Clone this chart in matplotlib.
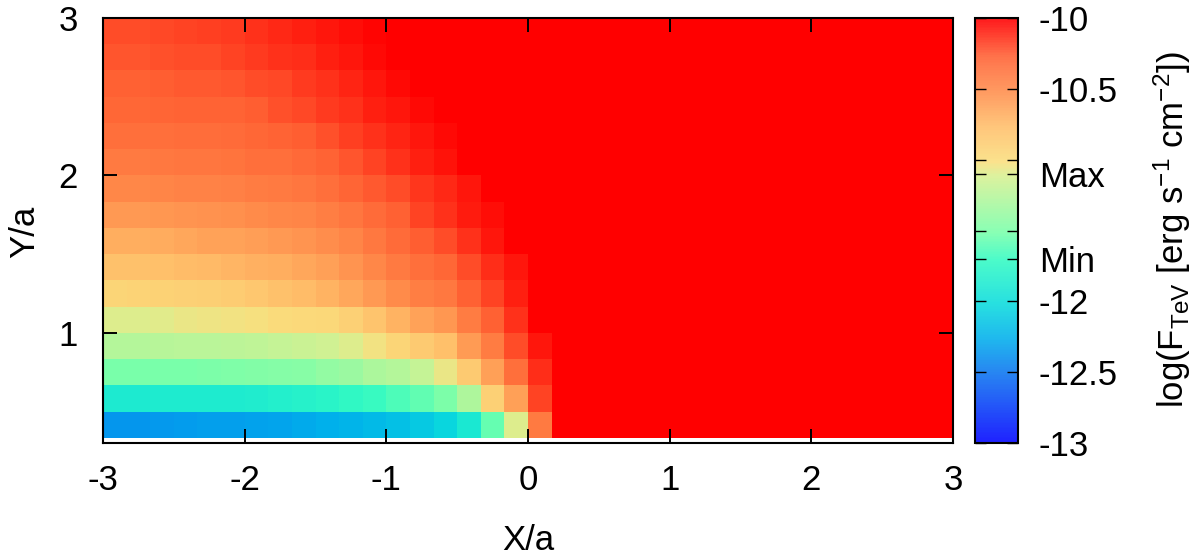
import matplotlib
matplotlib.use("Agg")
import matplotlib.pyplot as plt
import numpy as np
from matplotlib.cm import ScalarMappable
from matplotlib.colors import LinearSegmentedColormap, Normalize

plt.rcParams['font.family'] = ['Liberation Sans', 'DejaVu Sans']
plt.rcParams['mathtext.fontset'] = 'custom'
plt.rcParams['mathtext.rm'] = 'Liberation Sans'
plt.rcParams['mathtext.default'] = 'rm'

x_ticks = [-3, -2, -1, 0, 1, 2, 3]
y_ticks = [1, 2, 3]
cbar_ticks = [-13, -12.5, -12, -11.7, -11.5, -11.1, -11, -10.5, -10]
cbar_labels = ['-13', '-12.5', '-12', 'Min', '', 'Max', '', '-10.5', '-10']

# log flux per cell, bottom row first, columns left to right
row01 = [-12.35, -12.35, -12.34, -12.33, -12.32, -12.31, -12.30, -12.29, -12.27, -12.25, -12.22, -12.18, -12.15, -12.10, -12.03, -11.88, -11.55, -11.08, -10.40, -10, -10, -10, -10, -10, -10, -10, -10, -10, -10, -10, -10, -10, -10, -10, -10, -10]
row02 = [-11.86, -11.86, -11.85, -11.85, -11.84, -11.84, -11.83, -11.81, -11.79, -11.76, -11.72, -11.68, -11.62, -11.56, -11.48, -11.27, -10.90, -10.60, -10.18, -10, -10, -10, -10, -10, -10, -10, -10, -10, -10, -10, -10, -10, -10, -10, -10, -10]
row03 = [-11.50, -11.50, -11.49, -11.49, -11.48, -11.47, -11.46, -11.45, -11.43, -11.39, -11.35, -11.28, -11.25, -11.18, -11.05, -10.85, -10.60, -10.35, -10.12, -10, -10, -10, -10, -10, -10, -10, -10, -10, -10, -10, -10, -10, -10, -10, -10, -10]
row04 = [-11.25, -11.25, -11.24, -11.23, -11.22, -11.21, -11.20, -11.18, -11.15, -11.13, -11.08, -11.03, -10.93, -10.85, -10.77, -10.58, -10.42, -10.20, -10.06, -10, -10, -10, -10, -10, -10, -10, -10, -10, -10, -10, -10, -10, -10, -10, -10, -10]
row05 = [-11.08, -11.08, -11.07, -11.05, -11.04, -11.03, -11.01, -10.98, -10.97, -10.95, -10.90, -10.80, -10.70, -10.62, -10.56, -10.42, -10.26, -10.13, -10, -10, -10, -10, -10, -10, -10, -10, -10, -10, -10, -10, -10, -10, -10, -10, -10, -10]
row06 = [-10.93, -10.92, -10.91, -10.90, -10.88, -10.86, -10.83, -10.78, -10.74, -10.70, -10.64, -10.57, -10.50, -10.43, -10.39, -10.26, -10.18, -10.09, -10, -10, -10, -10, -10, -10, -10, -10, -10, -10, -10, -10, -10, -10, -10, -10, -10, -10]
row07 = [-10.78, -10.78, -10.77, -10.75, -10.73, -10.71, -10.69, -10.67, -10.64, -10.60, -10.54, -10.47, -10.41, -10.35, -10.30, -10.20, -10.12, -10.06, -10, -10, -10, -10, -10, -10, -10, -10, -10, -10, -10, -10, -10, -10, -10, -10, -10, -10]
row08 = [-10.67, -10.67, -10.66, -10.64, -10.62, -10.61, -10.59, -10.57, -10.55, -10.51, -10.46, -10.39, -10.32, -10.25, -10.20, -10.13, -10.07, -10, -10, -10, -10, -10, -10, -10, -10, -10, -10, -10, -10, -10, -10, -10, -10, -10, -10, -10]
row09 = [-10.57, -10.57, -10.56, -10.55, -10.53, -10.52, -10.50, -10.48, -10.46, -10.43, -10.38, -10.32, -10.26, -10.18, -10.13, -10.08, -10.04, -10, -10, -10, -10, -10, -10, -10, -10, -10, -10, -10, -10, -10, -10, -10, -10, -10, -10, -10]
row10 = [-10.47, -10.47, -10.46, -10.45, -10.45, -10.44, -10.42, -10.41, -10.38, -10.34, -10.29, -10.24, -10.20, -10.15, -10.11, -10.07, -10, -10, -10, -10, -10, -10, -10, -10, -10, -10, -10, -10, -10, -10, -10, -10, -10, -10, -10, -10]
row11 = [-10.40, -10.40, -10.39, -10.38, -10.38, -10.37, -10.35, -10.34, -10.31, -10.28, -10.23, -10.18, -10.13, -10.09, -10.05, -10, -10, -10, -10, -10, -10, -10, -10, -10, -10, -10, -10, -10, -10, -10, -10, -10, -10, -10, -10, -10]
row12 = [-10.35, -10.35, -10.34, -10.33, -10.33, -10.32, -10.30, -10.28, -10.25, -10.22, -10.17, -10.13, -10.10, -10.06, -10.03, -10, -10, -10, -10, -10, -10, -10, -10, -10, -10, -10, -10, -10, -10, -10, -10, -10, -10, -10, -10, -10]
row13 = [-10.30, -10.30, -10.29, -10.28, -10.28, -10.27, -10.25, -10.22, -10.19, -10.16, -10.13, -10.09, -10.06, -10.03, -10, -10, -10, -10, -10, -10, -10, -10, -10, -10, -10, -10, -10, -10, -10, -10, -10, -10, -10, -10, -10, -10]
row14 = [-10.26, -10.26, -10.25, -10.24, -10.24, -10.23, -10.21, -10.19, -10.16, -10.13, -10.10, -10.06, -10.03, -10, -10, -10, -10, -10, -10, -10, -10, -10, -10, -10, -10, -10, -10, -10, -10, -10, -10, -10, -10, -10, -10, -10]
row15 = [-10.23, -10.23, -10.22, -10.21, -10.20, -10.18, -10.16, -10.14, -10.12, -10.09, -10.06, -10.03, -10, -10, -10, -10, -10, -10, -10, -10, -10, -10, -10, -10, -10, -10, -10, -10, -10, -10, -10, -10, -10, -10, -10, -10]
row16 = [-10.20, -10.20, -10.19, -10.18, -10.17, -10.16, -10.14, -10.11, -10.09, -10.07, -10.04, -10.02, -10, -10, -10, -10, -10, -10, -10, -10, -10, -10, -10, -10, -10, -10, -10, -10, -10, -10, -10, -10, -10, -10, -10, -10]

flux = np.array([row01, row02, row03, row04, row05, row06, row07, row08,
                 row09, row10, row11, row12, row13, row14, row15, row16])

x_edges = np.linspace(-3, 3, flux.shape[1] + 1)
y_edges = np.linspace(1 / 3, 3, flux.shape[0] + 1)

# palette picked off the colour box
anchors = [(-13, (0, 0, 255)), (-12.5, (10, 115, 240)), (-12.25, (0, 175, 235)),
           (-12, (10, 220, 220)), (-11.7, (50, 250, 195)), (-11.5, (120, 255, 170)),
           (-11.1, (215, 240, 145)), (-11, (250, 222, 125)), (-10.75, (255, 190, 105)),
           (-10.5, (255, 140, 75)), (-10.25, (255, 95, 50)), (-10, (255, 0, 0))]


def make_cmap(fade):
    # colour box looks washed out a bit compared to the map
    stops = []
    for v, rgb in anchors:
        c = [(1 - fade) * ch / 255 + fade for ch in rgb]
        stops.append(((v + 13) / 3, tuple(c)))
    return LinearSegmentedColormap.from_list('flux', stops, N=256)


norm = Normalize(-13, -10)
W, H = 1200, 558
fs = 25
fig = plt.figure(figsize=(12, 5.58), dpi=100)
ax = fig.add_axes([103 / W, 1 - 443 / H, 850 / W, 425 / H])
cax = fig.add_axes([975 / W, 1 - 443 / H, 43 / W, 425 / H])

ax.pcolormesh(x_edges, y_edges, flux, cmap=make_cmap(0), norm=norm)
ax.set_xlim(-3, 3)
ax.set_ylim(0.3, 3)
ax.set_xticks(x_ticks)
ax.set_xticklabels([str(t) for t in x_ticks])
ax.set_yticks(y_ticks)
ax.set_yticklabels([str(t) for t in y_ticks])
ax.tick_params(direction='in', length=10, width=1.4, top=True, right=True,
               labelsize=fs, pad=15)
ax.tick_params(axis='y', pad=18)
for s in ax.spines.values():
    s.set_linewidth(1.5)
fig.text(528 / W, 1 - 540 / H, 'X/a', fontsize=fs, ha='center', va='center')
fig.text(25 / W, 1 - 232 / H, 'Y/a', fontsize=fs, rotation=90, ha='center', va='center')

cb = fig.colorbar(ScalarMappable(norm=norm, cmap=make_cmap(0.12)), cax=cax)
cb.solids.set_edgecolor('face')
cb.set_ticks(cbar_ticks)
cb.set_ticklabels(cbar_labels)
cb.minorticks_off()
cax.tick_params(direction='in', length=8, width=1.0, left=True, right=True,
                labelsize=fs, pad=15)
cb.outline.set_linewidth(1.5)
fig.text(1172 / W, 1 - 230 / H, r'log(F$_{TeV}$ [erg s$^{-1}$ cm$^{-2}$])',
         rotation=90, fontsize=fs, ha='center', va='center')

fig.savefig('out.png', dpi=100)
